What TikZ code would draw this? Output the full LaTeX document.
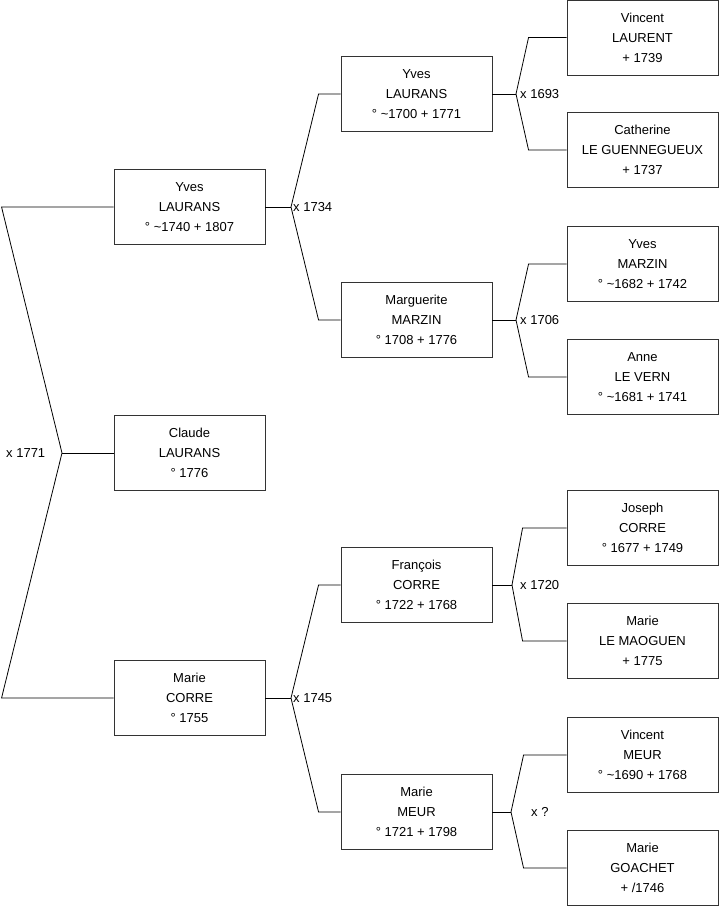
\documentclass[tikz,border=0pt]{standalone}
\usepackage{fontspec}
\setmainfont{Liberation Sans}
\begin{document}
\begin{tikzpicture}[x=1pt,y=-1pt,
  person/.style={draw=black!80,line width=0.9pt,fill=white,minimum width=151pt,minimum height=75pt,
    inner sep=0pt,align=center,font=\fontsize{13}{20}\selectfont},
  link/.style={draw=black,line width=0.8pt},
  marr/.style={font=\fontsize{13}{15}\selectfont,inner sep=0pt,anchor=west}]
\useasboundingbox (0,0) rectangle (719,908);
% column 1
\node[person] (p1) at (189.5,207) {Yves\\LAURANS\\° \textasciitilde1740 + 1807};
\node[person] (p2) at (189.5,453) {Claude\\LAURANS\\° 1776};
\node[person] (p3) at (189.5,698) {Marie\\CORRE\\° 1755};
% column 2
\node[person] (g1) at (416.5,94) {Yves\\LAURANS\\° \textasciitilde1700 + 1771};
\node[person] (g2) at (416.5,320) {Marguerite\\MARZIN\\° 1708 + 1776};
\node[person] (g3) at (416.5,585) {François\\CORRE\\° 1722 + 1768};
\node[person] (g4) at (416.5,812) {Marie\\MEUR\\° 1721 + 1798};
% column 3
\node[person] (a1) at (642.5,37.5) {Vincent\\LAURENT\\+ 1739};
\node[person] (a2) at (642.5,150) {Catherine\\LE GUENNEGUEUX\\+ 1737};
\node[person] (a3) at (642.5,264) {Yves\\MARZIN\\° \textasciitilde1682 + 1742};
\node[person] (a4) at (642.5,377) {Anne\\LE VERN\\° \textasciitilde1681 + 1741};
\node[person] (a5) at (642.5,528) {Joseph\\CORRE\\° 1677 + 1749};
\node[person] (a6) at (642.5,641) {Marie\\LE MAOGUEN\\+ 1775};
\node[person] (a7) at (642.5,755) {Vincent\\MEUR\\° \textasciitilde1690 + 1768};
\node[person] (a8) at (642.5,868) {Marie\\GOACHET\\+ /1746};
% vertices
\coordinate (v0) at (62,453);
\coordinate (v1) at (291,207);
\coordinate (v2) at (291,698);
\coordinate (v3) at (516,94);
\coordinate (v4) at (516,320);
\coordinate (v5) at (512,585);
\coordinate (v6) at (511,812);
% connectors
\draw[link] (p2.west) -- (v0);
\draw[link] (p1.west) -- ([xshift=-112pt]p1.west) -- (v0) -- ([xshift=-112pt]p3.west) -- (p3.west);
\draw[link] (p1.east) -- (v1);
\draw[link] (g1.west) -- ([xshift=-22pt]g1.west) -- (v1) -- ([xshift=-22pt]g2.west) -- (g2.west);
\draw[link] (p3.east) -- (v2);
\draw[link] (g3.west) -- ([xshift=-22pt]g3.west) -- (v2) -- ([xshift=-22pt]g4.west) -- (g4.west);
\draw[link] (g1.east) -- (v3);
\draw[link] (a1.west) -- ([xshift=-38pt]a1.west) -- (v3) -- ([xshift=-38pt]a2.west) -- (a2.west);
\draw[link] (g2.east) -- (v4);
\draw[link] (a3.west) -- ([xshift=-38pt]a3.west) -- (v4) -- ([xshift=-38pt]a4.west) -- (a4.west);
\draw[link] (g3.east) -- (v5);
\draw[link] (a5.west) -- ([xshift=-44pt]a5.west) -- (v5) -- ([xshift=-44pt]a6.west) -- (a6.west);
\draw[link] (g4.east) -- (v6);
\draw[link] (a7.west) -- ([xshift=-43pt]a7.west) -- (v6) -- ([xshift=-43pt]a8.west) -- (a8.west);
% marriage labels
\node[marr] (m0) at (6,453) {x 1771};
\node[marr] (m1) at (293,207) {x 1734};
\node[marr] (m2) at (293,698) {x 1745};
\node[marr] (m3) at (520,94) {x 1693};
\node[marr] (m4) at (520,320) {x 1706};
\node[marr] (m5) at (520,585) {x 1720};
\node[marr] (m6) at (531,812) {x ?};
\end{tikzpicture}
\end{document}
